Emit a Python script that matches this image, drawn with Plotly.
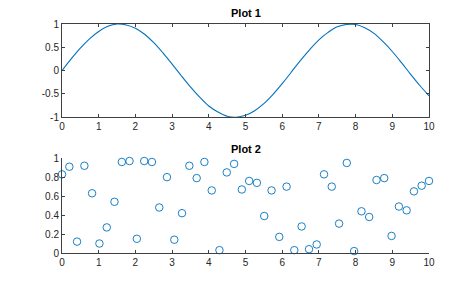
import plotly.graph_objects as go

# Plot 1: line data
line_x = [0, 0.25, 0.5, 0.75, 1.0, 1.25, 1.5, 1.75, 2.0, 2.25, 2.5, 2.75, 3.0, 3.25, 3.5,
          3.75, 4.0, 4.25, 4.5, 4.75, 5.0, 5.25, 5.5, 5.75, 6.0, 6.25, 6.5, 6.75, 7.0,
          7.25, 7.5, 7.75, 8.0, 8.25, 8.5, 8.75, 9.0, 9.25, 9.5, 9.75, 10.0]
line_y = [0.00, 0.25, 0.48, 0.68, 0.84, 0.95, 1.00, 0.98, 0.91, 0.78, 0.60, 0.38, 0.14,
          -0.11, -0.35, -0.57, -0.76, -0.89, -0.98, -1.00, -0.96, -0.86, -0.71, -0.51,
          -0.28, -0.03, 0.22, 0.45, 0.66, 0.82, 0.94, 0.99, 0.99, 0.92, 0.80, 0.62, 0.41,
          0.17, -0.08, -0.32, -0.54]

# Plot 2: scatter data
scatter_x = [0.00, 0.20, 0.41, 0.61, 0.82, 1.02, 1.22, 1.43, 1.63, 1.84, 2.04, 2.24, 2.45,
             2.65, 2.86, 3.06, 3.27, 3.47, 3.67, 3.88, 4.08, 4.29, 4.49, 4.69, 4.90, 5.10,
             5.31, 5.51, 5.71, 5.92, 6.12, 6.33, 6.53, 6.73, 6.94, 7.14, 7.35, 7.55, 7.76,
             7.96, 8.16, 8.37, 8.57, 8.78, 8.98, 9.18, 9.39, 9.59, 9.80, 10.00]
scatter_y = [0.83, 0.91, 0.12, 0.92, 0.63, 0.10, 0.27, 0.54, 0.96, 0.97, 0.15, 0.97, 0.96,
             0.48, 0.80, 0.14, 0.42, 0.92, 0.79, 0.96, 0.66, 0.03, 0.85, 0.94, 0.67, 0.76,
             0.74, 0.39, 0.66, 0.17, 0.70, 0.03, 0.28, 0.04, 0.09, 0.83, 0.70, 0.31, 0.95,
             0.02, 0.44, 0.38, 0.77, 0.79, 0.18, 0.49, 0.45, 0.65, 0.71, 0.76]

x_ticks = [0, 1, 2, 3, 4, 5, 6, 7, 8, 9, 10]
x_ticklabels = ["0", "1", "2", "3", "4", "5", "6", "7", "8", "9", "10"]
y1_ticks = [-1, -0.5, 0, 0.5, 1]
y1_ticklabels = ["-1", "-0.5", "0", "0.5", "1"]
y2_ticks = [0, 0.2, 0.4, 0.6, 0.8, 1]
y2_ticklabels = ["0", "0.2", "0.4", "0.6", "0.8", "1"]
titles = ["Plot 1", "Plot 2"]

BLUE = "#0072BD"
AX = "#404040"
FONT = "Liberation Sans, Arial, sans-serif"

fig = go.Figure()
fig.add_trace(go.Scatter(x=line_x, y=line_y, mode="lines", line=dict(color=BLUE, width=1.1, shape="spline"),
                         xaxis="x", yaxis="y", showlegend=False, cliponaxis=False))
fig.add_trace(go.Scatter(x=scatter_x, y=scatter_y, mode="markers",
                         marker=dict(symbol="circle-open", size=7.5, color=BLUE, line=dict(width=0.9)),
                         xaxis="x2", yaxis="y2", showlegend=False, cliponaxis=False))

common = dict(showgrid=False, zeroline=False, showline=True, linecolor=AX, linewidth=1,
              ticks="inside", ticklen=3, tickcolor=AX, tickwidth=1,
              tickfont=dict(family=FONT, size=10, color="#262626"))

fig.update_layout(
    width=474, height=285,
    margin=dict(l=62, r=45, t=24, b=32),
    paper_bgcolor="white", plot_bgcolor="white",
    xaxis=dict(domain=[0, 1], range=[0, 10], anchor="y", tickvals=x_ticks, ticktext=x_ticklabels,
               mirror="ticks", **common),
    yaxis=dict(domain=[0.593, 1], range=[-1, 1], anchor="x", tickvals=y1_ticks, ticktext=y1_ticklabels,
               mirror="ticks", **common),
    xaxis2=dict(domain=[0, 1], range=[0, 10], anchor="y2", tickvals=x_ticks, ticktext=x_ticklabels,
                mirror=False, **common),
    yaxis2=dict(domain=[0, 0.414], range=[0, 1], anchor="x2", tickvals=y2_ticks, ticktext=y2_ticklabels,
                mirror=False, **common),
    annotations=[
        dict(text="<b>%s</b>" % titles[0], xref="x domain", yref="y domain", x=0.5, y=1.0,
             yanchor="bottom", yshift=3, showarrow=False, font=dict(family=FONT, size=11, color="#000")),
        dict(text="<b>%s</b>" % titles[1], xref="x2 domain", yref="y2 domain", x=0.5, y=1.0,
             yanchor="bottom", yshift=1, showarrow=False, font=dict(family=FONT, size=11, color="#000")),
    ],
)

fig.write_html("out.html")
